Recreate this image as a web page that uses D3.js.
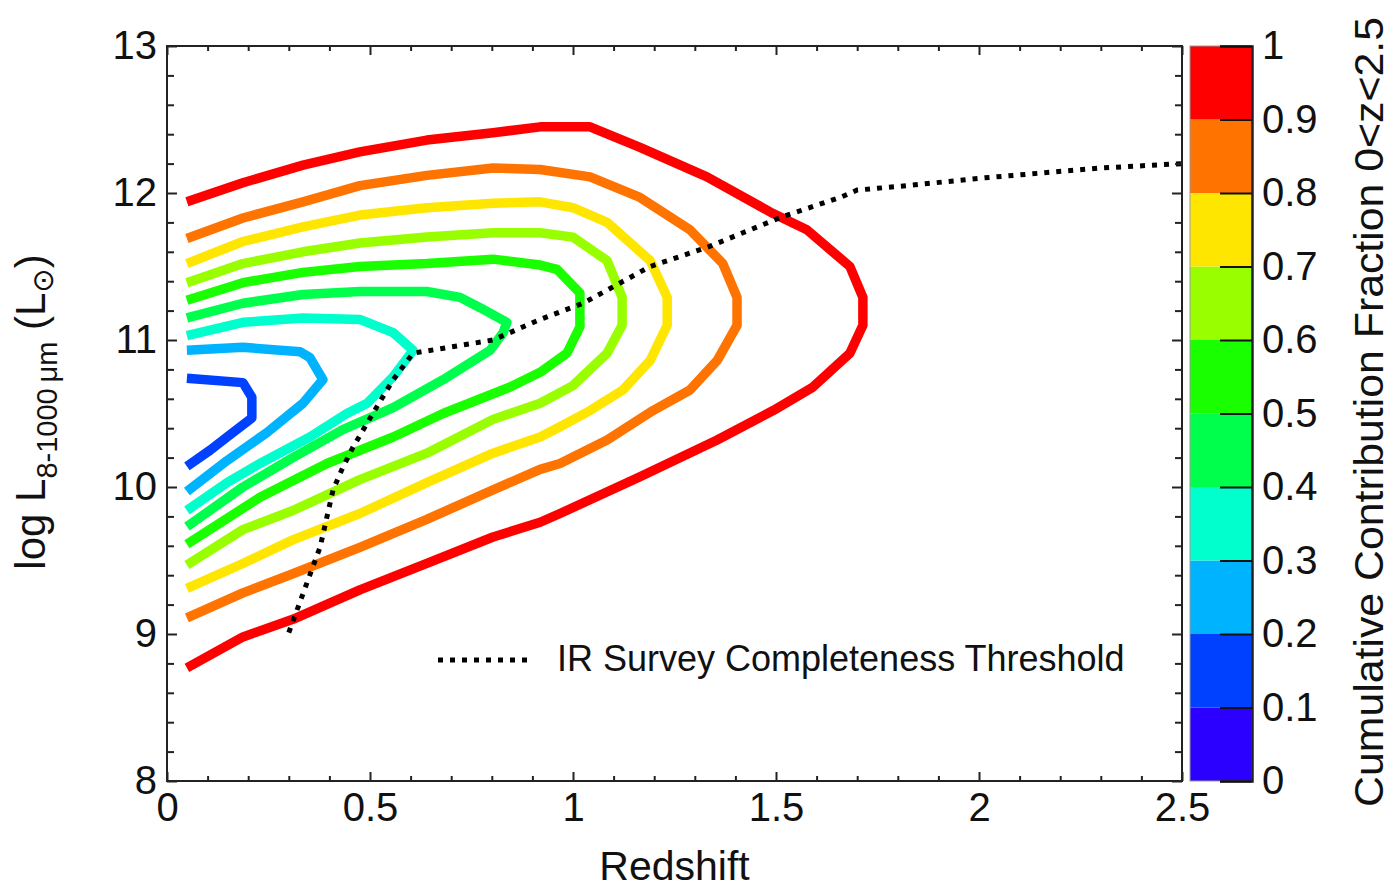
<!DOCTYPE html>
<html>
<head>
<meta charset="utf-8">
<script src="https://cdn.jsdelivr.net/npm/d3@7"></script>
<style>
  html, body { margin: 0; padding: 0; background: #fff; }
  svg { display: block; font-family: "Liberation Sans", Arial, sans-serif; }
</style>
</head>
<body>
<svg id="chart" width="1391" height="892"></svg>
<script>
// ---------- data ----------
const xMajorTicks = [0, 0.5, 1, 1.5, 2, 2.5];
const yMajorTicks = [8, 9, 10, 11, 12, 13];
const cbTicks = [0, 0.1, 0.2, 0.3, 0.4, 0.5, 0.6, 0.7, 0.8, 0.9, 1];
const cbLabels = ["0", "0.1", "0.2", "0.3", "0.4", "0.5", "0.6", "0.7", "0.8", "0.9", "1"];
const bandColors = ["#2b00ff", "#0040ff", "#00b3ff", "#00ffcc", "#00ff4d",
                    "#1aff00", "#99ff00", "#ffe600", "#ff7300", "#ff0000"];
const contourLevels = [0.1, 0.2, 0.3, 0.4, 0.5, 0.6, 0.7, 0.8, 0.9];

// contours: [redshift, log L]
const contour10 = [[0.049,10.74],[0.187,10.71],[0.209,10.61],[0.209,10.47],[0.148,10.34],[0.106,10.25],[0.049,10.14]];
const contour20 = [[0.049,10.93],[0.187,10.95],[0.328,10.92],[0.352,10.88],[0.384,10.73],[0.335,10.57],[0.246,10.37],[0.148,10.18],[0.049,9.97]];
const contour30 = [[0.049,11.03],[0.187,11.12],[0.335,11.15],[0.475,11.14],[0.557,11.05],[0.606,10.93],[0.557,10.75],[0.493,10.57],[0.443,10.50],[0.352,10.34],[0.229,10.16],[0.148,10.03],[0.049,9.84]];
const contour40 = [[0.049,11.15],[0.187,11.25],[0.335,11.31],[0.475,11.33],[0.640,11.33],[0.722,11.29],[0.771,11.22],[0.837,11.12],[0.828,11.05],[0.796,10.93],[0.680,10.73],[0.557,10.54],[0.433,10.39],[0.310,10.20],[0.187,10.00],[0.049,9.73]];
const contour50 = [[0.049,11.27],[0.187,11.39],[0.335,11.46],[0.475,11.50],[0.640,11.52],[0.803,11.55],[0.919,11.51],[0.961,11.48],[1.017,11.32],[1.017,11.09],[0.985,10.91],[0.919,10.78],[0.845,10.68],[0.680,10.50],[0.557,10.34],[0.394,10.16],[0.229,9.93],[0.049,9.61]];
const contour60 = [[0.049,11.39],[0.187,11.52],[0.335,11.60],[0.475,11.66],[0.640,11.70],[0.803,11.73],[0.919,11.73],[1.00,11.70],[1.084,11.54],[1.121,11.29],[1.121,11.10],[1.084,10.91],[1.00,10.69],[0.919,10.57],[0.803,10.46],[0.640,10.23],[0.475,10.05],[0.310,9.84],[0.187,9.71],[0.049,9.47]];
const contour70 = [[0.049,11.52],[0.187,11.67],[0.335,11.77],[0.475,11.85],[0.640,11.90],[0.803,11.93],[0.919,11.94],[1.00,11.90],[1.084,11.80],[1.190,11.54],[1.232,11.29],[1.232,11.10],[1.190,10.86],[1.123,10.66],[1.042,10.52],[0.968,10.41],[0.919,10.34],[0.803,10.23],[0.640,10.03],[0.475,9.82],[0.310,9.64],[0.187,9.48],[0.049,9.31]];
const contour80 = [[0.049,11.69],[0.187,11.83],[0.335,11.94],[0.475,12.05],[0.640,12.12],[0.803,12.17],[0.919,12.16],[1.042,12.11],[1.165,11.97],[1.288,11.75],[1.369,11.52],[1.404,11.29],[1.404,11.10],[1.355,10.86],[1.288,10.66],[1.197,10.52],[1.084,10.32],[0.968,10.16],[0.919,10.12],[0.803,9.98],[0.640,9.78],[0.475,9.59],[0.310,9.41],[0.187,9.28],[0.049,9.11]];
const contour90 = [[0.049,11.94],[0.187,12.07],[0.335,12.19],[0.475,12.28],[0.640,12.36],[0.803,12.41],[0.919,12.45],[1.042,12.45],[1.165,12.31],[1.330,12.11],[1.493,11.86],[1.576,11.75],[1.682,11.50],[1.714,11.29],[1.714,11.10],[1.682,10.91],[1.591,10.68],[1.493,10.52],[1.355,10.32],[1.165,10.07],[0.968,9.82],[0.919,9.76],[0.803,9.66],[0.640,9.48],[0.475,9.30],[0.310,9.10],[0.187,8.98],[0.049,8.77]];
const contours = [contour10, contour20, contour30, contour40, contour50, contour60, contour70, contour80, contour90];

// IR survey completeness threshold
const thresholdZ = [0.30, 0.345, 0.377, 0.409, 0.431, 0.458, 0.507, 0.557, 0.606, 0.803, 0.919, 1.025, 1.190, 1.330, 1.517, 1.658, 1.700, 1.823, 2.00, 2.30, 2.50];
const thresholdL = [9.01, 9.35, 9.59, 9.98, 10.12, 10.27, 10.50, 10.73, 10.91, 11.00, 11.14, 11.25, 11.50, 11.63, 11.84, 11.97, 12.02, 12.05, 12.10, 12.17, 12.20];
const legendLabel = "IR Survey Completeness Threshold";

// ---------- layout ----------
const svg = d3.select("#chart");
const pLeft = 167, pRight = 1182, pTop = 46, pBottom = 781;
const x = d3.scaleLinear().domain([0, 2.5]).range([pLeft, pRight]);
const y = d3.scaleLinear().domain([8, 13]).range([pBottom, pTop]);
const axisColor = "#222";
const fontTick = 40;

// contours
const line = d3.line().x(d => x(d[0])).y(d => y(d[1]));
const levelColor = d3.scaleThreshold().domain(cbTicks.slice(1, 10)).range(bandColors);
svg.append("g").selectAll("path")
  .data(contours)
  .join("path")
  .attr("d", line)
  .attr("fill", "none")
  .attr("stroke", (d, i) => levelColor(contourLevels[i] + 0.001))
  .attr("stroke-width", 9.5)
  .attr("stroke-linejoin", "round");

// threshold dotted line
const thr = thresholdZ.map((z, i) => [z, thresholdL[i]]);
svg.append("path")
  .attr("d", line(thr))
  .attr("fill", "none")
  .attr("stroke", "#000")
  .attr("stroke-width", 5)
  .attr("stroke-dasharray", "5,7");

// legend
svg.append("line")
  .attr("x1", 438).attr("x2", 530).attr("y1", 660).attr("y2", 660)
  .attr("stroke", "#000").attr("stroke-width", 5).attr("stroke-dasharray", "5,7");
svg.append("text")
  .attr("x", 557).attr("y", 671)
  .attr("font-size", 36).attr("fill", "#111")
  .text(legendLabel);

// axes
const xMinor = d3.range(0, 26).map(i => i / 10).filter(v => Math.abs(v * 2 - Math.round(v * 2)) > 1e-6);
const yMinor = d3.range(40, 66).map(i => i / 5).filter(v => Math.abs(v - Math.round(v)) > 1e-6);

function styleAxis(g) {
  g.selectAll("line").attr("stroke", axisColor).attr("stroke-width", 2);
  g.selectAll("path.domain").remove();
  g.selectAll("text").attr("font-size", fontTick).attr("fill", "#111")
    .attr("font-family", "Liberation Sans, Arial, sans-serif");
}

// bottom
svg.append("g").attr("transform", `translate(0,${pBottom})`)
  .call(d3.axisBottom(x).tickValues(xMajorTicks).tickSize(-9).tickPadding(12).tickFormat(d3.format("")))
  .call(styleAxis);
svg.append("g").attr("transform", `translate(0,${pBottom})`)
  .call(d3.axisBottom(x).tickValues(xMinor).tickSize(-5).tickFormat(""))
  .call(styleAxis);
// top
svg.append("g").attr("transform", `translate(0,${pTop})`)
  .call(d3.axisTop(x).tickValues(xMajorTicks).tickSize(-9).tickFormat(""))
  .call(styleAxis);
svg.append("g").attr("transform", `translate(0,${pTop})`)
  .call(d3.axisTop(x).tickValues(xMinor).tickSize(-5).tickFormat(""))
  .call(styleAxis);
// left
svg.append("g").attr("transform", `translate(${pLeft},0)`)
  .call(d3.axisLeft(y).tickValues(yMajorTicks).tickSize(-10).tickPadding(10).tickFormat(d3.format("d")))
  .call(styleAxis);
svg.append("g").attr("transform", `translate(${pLeft},0)`)
  .call(d3.axisLeft(y).tickValues(yMinor).tickSize(-7).tickFormat(""))
  .call(styleAxis);
// right
svg.append("g").attr("transform", `translate(${pRight},0)`)
  .call(d3.axisRight(y).tickValues(yMajorTicks).tickSize(-10).tickFormat(""))
  .call(styleAxis);
svg.append("g").attr("transform", `translate(${pRight},0)`)
  .call(d3.axisRight(y).tickValues(yMinor).tickSize(-7).tickFormat(""))
  .call(styleAxis);

// frame
svg.append("rect")
  .attr("x", pLeft).attr("y", pTop).attr("width", pRight - pLeft).attr("height", pBottom - pTop)
  .attr("fill", "none").attr("stroke", axisColor).attr("stroke-width", 2);

// axis titles
svg.append("text")
  .attr("x", (pLeft + pRight) / 2).attr("y", 880)
  .attr("text-anchor", "middle").attr("font-size", 41).attr("fill", "#111")
  .text("Redshift");

const yl = svg.append("text")
  .attr("transform", "translate(45,412) rotate(-90)")
  .attr("text-anchor", "middle").attr("font-size", 42).attr("fill", "#111");
yl.append("tspan").text("log L");
yl.append("tspan").attr("font-size", 29).attr("dy", 12).text("8-1000\u2009\u03bcm");
yl.append("tspan").attr("dy", -12).text(" (L");
yl.append("tspan").attr("font-size", 29).attr("dy", 8)
  .attr("font-family", "DejaVu Sans").text("\u2299");
yl.append("tspan").attr("dy", -8).text(")");

// colorbar
const cbLeft = 1190, cbRight = 1252;
const cb = d3.scaleLinear().domain([0, 1]).range([pBottom, pTop]);
svg.append("g").selectAll("rect")
  .data(bandColors)
  .join("rect")
  .attr("x", cbLeft).attr("width", cbRight - cbLeft)
  .attr("y", (d, i) => cb(cbTicks[i + 1]))
  .attr("height", (d, i) => cb(cbTicks[i]) - cb(cbTicks[i + 1]))
  .attr("fill", d => d);
svg.append("rect")
  .attr("x", cbLeft).attr("y", pTop).attr("width", cbRight - cbLeft).attr("height", pBottom - pTop)
  .attr("fill", "none").attr("stroke", "#999").attr("stroke-width", 1);
svg.append("g").attr("transform", `translate(${cbRight},0)`)
  .call(d3.axisRight(cb).tickValues(cbTicks).tickSize(-32).tickPadding(10)
        .tickFormat((d, i) => cbLabels[i]))
  .call(g => {
    g.select("path.domain").attr("stroke", axisColor).attr("stroke-width", 2.5);
    g.selectAll("line").attr("stroke", "#111").attr("stroke-width", 2);
    g.selectAll("text").attr("font-size", fontTick).attr("fill", "#111")
      .attr("font-family", "Liberation Sans, Arial, sans-serif");
  });

svg.append("text")
  .attr("transform", "translate(1383,412) rotate(-90)")
  .attr("text-anchor", "middle").attr("font-size", 41).attr("fill", "#111")
  .attr("textLength", 790).attr("lengthAdjust", "spacingAndGlyphs")
  .text("Cumulative Contribution Fraction 0<z<2.5");
</script>
</body>
</html>
